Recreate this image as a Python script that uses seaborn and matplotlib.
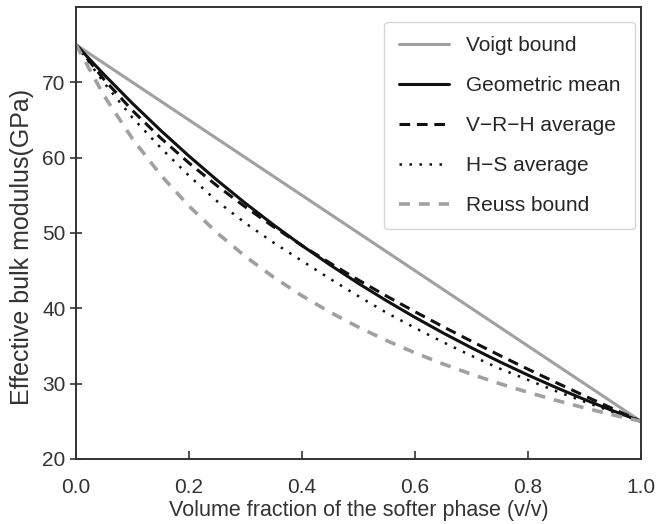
import matplotlib
matplotlib.use("Agg")
import matplotlib.pyplot as plt
import seaborn as sns
import pandas as pd

fraction = [0.0, 0.05, 0.1, 0.15, 0.2, 0.25, 0.3, 0.35, 0.4, 0.45, 0.5,
            0.55, 0.6, 0.65, 0.7, 0.75, 0.8, 0.85, 0.9, 0.95, 1.0]
voigt = [75, 72.5, 70, 67.5, 65, 62.5, 60, 57.5, 55, 52.5, 50,
         47.5, 45, 42.5, 40, 37.5, 35, 32.5, 30, 27.5, 25]
geometric = [75, 71.00, 67.20, 63.61, 60.21, 56.99, 53.94, 51.06, 48.33, 45.75, 43.30,
             40.99, 38.80, 36.72, 34.76, 32.90, 31.14, 29.48, 27.90, 26.41, 25]
vrh = [75, 70.34, 66.25, 62.60, 59.29, 56.25, 53.44, 50.81, 48.33, 45.99, 43.75,
       41.61, 39.55, 37.55, 35.63, 33.75, 31.92, 30.14, 28.39, 26.68, 25]
hs = [75, 69.9, 65.3, 61.3, 57.6, 54.2, 51.3, 48.7, 46.3, 43.9, 41.6,
      39.4, 37.4, 35.5, 33.7, 32.0, 30.5, 29.0, 27.6, 26.25, 25]
reuss = [75, 68.18, 62.5, 57.69, 53.57, 50.0, 46.875, 44.12, 41.67, 39.47, 37.5,
         35.71, 34.09, 32.61, 31.25, 30.0, 28.85, 27.78, 26.79, 25.86, 25]
labels = ["Voigt bound", "Geometric mean", "V\u2212R\u2212H average", "H\u2212S average", "Reuss bound"]

sns.set_style("ticks")
plt.rcParams['font.family'] = ['Liberation Sans', 'DejaVu Sans']
plt.rcParams['font.size'] = 15

fig = plt.figure(figsize=(6.67, 5.24), dpi=100)
ax = fig.add_axes([76/667, 1-459/524, 565/667, 452/524])

gray = "#a0a0a0"
series = [voigt, geometric, vrh, hs, reuss]
styles = [
    dict(color=gray, lw=2.2, ls="-"),
    dict(color="#111111", lw=2.2, ls="-"),
    dict(color="#111111", lw=2.2, ls=(0, (3.5, 2.2))),
    dict(color="#111111", lw=1.8, ls=(0, (1, 3))),
    dict(color=gray, lw=2.6, ls=(0, (3, 2.5))),
]
for vals, lab, st in zip(series, labels, styles):
    df = pd.DataFrame({"f": fraction, "K": vals})
    sns.lineplot(data=df, x="f", y="K", ax=ax, label=lab, **st)

ax.set_xlim(0, 1)
ax.set_ylim(20, 80)
ax.set_yticks([20, 30, 40, 50, 60, 70])
ax.set_xticks([0.0, 0.2, 0.4, 0.6, 0.8, 1.0])
ax.set_xticklabels(["0.0", "0.2", "0.4", "0.6", "0.8", "1.0"])
ax.set_xlabel("Volume fraction of the softer phase (v/v)", fontsize=15.5, color="#333333")
ax.set_ylabel("Effective bulk modulus(GPa)", fontsize=18, color="#333333")
ax.xaxis.set_label_coords(0.5, -0.091)
ax.yaxis.set_label_coords(-0.075, 0.47)
for s in ax.spines.values():
    s.set_color("#333333")
    s.set_linewidth(1.4)
ax.tick_params(axis="x", direction="in", length=6, width=1.2, colors="#333333", labelsize=15, pad=14)
ax.tick_params(axis="y", direction="inout", length=8, width=1.2, colors="#333333", labelsize=15)

leg = ax.legend(loc="upper right", bbox_to_anchor=(0.989, 0.967), borderaxespad=0,
                fontsize=15, handlelength=2.4, labelspacing=1.0, frameon=True,
                fancybox=True, edgecolor="#cccccc", borderpad=0.7, handletextpad=0.8)
leg.get_frame().set_linewidth(1.0)

fig.savefig("out.png", dpi=100)
